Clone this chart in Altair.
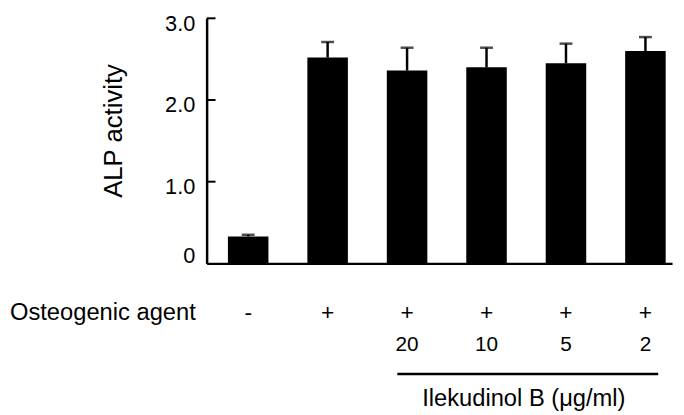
import altair as alt
import pandas as pd

# ---- data ----
groups = ["G1", "G2", "G3", "G4", "G5", "G6"]
alp = [0.33, 2.52, 2.36, 2.40, 2.45, 2.60]
err = [0.02, 0.19, 0.28, 0.24, 0.24, 0.17]
agent = ["-", "+", "+", "+", "+", "+"]
dose = ["", "", "20", "10", "5", "2"]
y_ticks = [0, 1, 2, 3]

FONT = "Liberation Sans"

df = pd.DataFrame({
    "group": groups,
    "alp": alp,
    "top": [a + e for a, e in zip(alp, err)],
    "agent": agent,
    "dose": dose,
})
ticks_df = pd.DataFrame({"v": y_ticks[1:]})
one = pd.DataFrame({"k": [0]})

xscale = alt.Scale(paddingInner=0.49, paddingOuter=0.174, align=0.77)
X = alt.X("group:N", sort=groups, scale=xscale, title=None,
          axis=alt.Axis(domain=True, domainColor="black", domainWidth=2.5,
                        ticks=False, labels=False, grid=False))
Xs = alt.X("group:N", sort=groups, title=None)

bars = alt.Chart(df).mark_bar(color="black").encode(
    x=X,
    y=alt.Y("alp:Q", scale=alt.Scale(domain=[0, 3], nice=False), title=None,
            axis=alt.Axis(values=y_ticks,
                          labelExpr="datum.value == 0 ? '0' : format(datum.value, '.1f')",
                          ticks=False, domainColor="black", domainWidth=2.5,
                          labelFontSize=22, labelFont=FONT, labelColor="black",
                          labelPadding=12, grid=False,
                          labelOffset={"condition": {"test": "datum.value == 0", "value": -8},
                                       "value": 5})),
)

err_line = alt.Chart(df).mark_rule(color="black", strokeWidth=2.5).encode(
    x=Xs, y=alt.Y("alp:Q", title=None), y2="top:Q"
)
err_cap = alt.Chart(df).mark_tick(color="black", thickness=2.5, size=13).encode(
    x=Xs, y=alt.Y("top:Q", title=None)
)

yticks = alt.Chart(ticks_df).mark_rule(color="black", strokeWidth=2).encode(
    y=alt.Y("v:Q", title=None), x=alt.value(0), x2=alt.value(9)
)

row1 = alt.Chart(df).mark_text(fontSize=23, font=FONT, color="black", baseline="middle").encode(
    x=Xs, y=alt.value(298), text="agent:N"
)
row2 = alt.Chart(df).mark_text(fontSize=21, font=FONT, color="black", baseline="middle").encode(
    x=Xs, y=alt.value(331), text="dose:N"
)
row_label = alt.Chart(one).mark_text(fontSize=24, font=FONT, color="black",
                                     align="left", baseline="middle").encode(
    x=alt.value(-199), y=alt.value(298), text=alt.value("Osteogenic agent")
)
underline = alt.Chart(one).mark_rule(color="black", strokeWidth=2.5).encode(
    x=alt.value(193), x2=alt.value(457), y=alt.value(360)
)
compound = alt.Chart(one).mark_text(fontSize=24, font=FONT, color="black", baseline="middle").encode(
    x=alt.value(321), y=alt.value(385), text=alt.value("Ilekudinol B (μg/ml)")
)
ytitle = alt.Chart(one).mark_text(fontSize=26, font=FONT, color="black", angle=270,
                                  baseline="middle").encode(
    x=alt.value(-94), y=alt.value(114), text=alt.value("ALP activity")
)

chart = alt.layer(
    bars, err_line, err_cap, yticks, row1, row2, row_label, underline, compound, ytitle
).properties(
    width=471, height=248,
    autosize=alt.AutoSizeParams(type="none"),
    padding={"left": 201, "top": 8, "right": 4, "bottom": 150},
).configure_view(stroke=None)

chart.save("out.html", embed_options={"renderer": "svg", "actions": False})
